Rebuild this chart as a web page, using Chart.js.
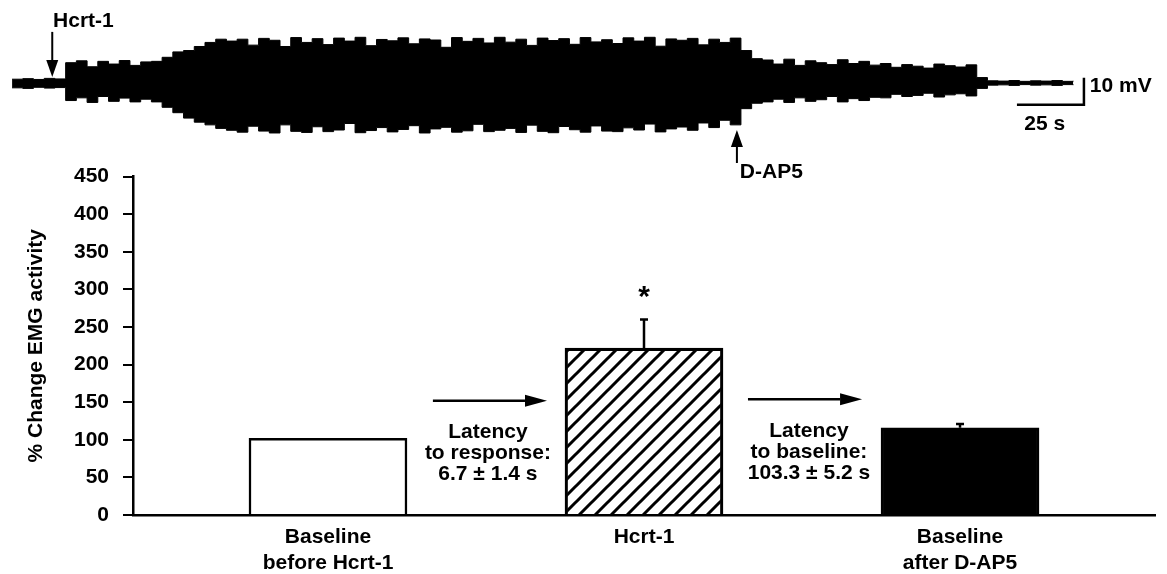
<!DOCTYPE html>
<html>
<head>
<meta charset="utf-8">
<script src="https://cdn.jsdelivr.net/npm/chart.js@4.4.0/dist/chart.umd.min.js"></script>
<style>
    body {
        margin: 0;
        background: #fff;
        width: 1167px;
        height: 574px;
        position: relative;
        overflow: hidden;
    }

    #barras {
        position: absolute;
        left: 0;
        top: 150px;
    }

    #traco {
        position: absolute;
        left: 0;
        top: 0;
    }
</style>
</head>
<body>
<canvas id="barras" width="1167" height="424"></canvas>
<canvas id="traco" width="1167" height="190"></canvas>

<script>
// registro de EMG (tempo em s, envelope em mV)
const traceTime = [
    0, 4, 8, 12, 16, 20, 24, 28, 32, 36,
    40, 44, 48, 52, 56, 60, 64, 68, 72, 76,
    80, 84, 88, 92, 96, 100, 104, 108, 112, 116,
    120, 124, 128, 132, 136, 140, 144, 148, 152, 156,
    160, 164, 168, 172, 176, 180, 184, 188, 192, 196,
    200, 204, 208, 212, 216, 220, 224, 228, 232, 236,
    240, 244, 248, 252, 256, 260, 264, 268, 272, 276,
    280, 284, 288, 292, 296, 300, 304, 308, 312, 316,
    320, 324, 328, 332, 336, 340, 344, 348, 352, 356,
    360, 364, 368, 372, 376, 380, 384, 388, 392, 396
];

const traceUpper = [
    1.4, 1.6, 1.3, 1.7, 1.5, 7.5, 8.2, 6.0, 8.0, 7.0,
    8.3, 6.5, 7.8, 8.0, 9.5, 11.5, 12.0, 13.5, 15.0, 16.2,
    15.5, 16.2, 14.0, 16.5, 15.8, 13.5, 16.8, 15.0, 16.4, 14.2,
    16.6, 15.5, 16.9, 13.8, 16.1, 15.6, 16.7, 14.5, 16.3, 15.9,
    13.2, 16.8, 15.4, 16.5, 14.8, 16.9, 15.1, 16.2, 13.9, 16.6,
    15.7, 16.4, 14.3, 16.8, 15.2, 16.0, 14.6, 16.7, 15.5, 16.9,
    13.6, 16.3, 15.8, 16.5, 14.1, 16.2, 15.0, 16.6, 12.0, 9.0,
    8.5, 7.0, 8.8, 6.5, 8.2, 7.5, 6.8, 8.6, 7.2, 8.0,
    6.6, 7.2, 5.8, 6.8, 6.2, 5.5, 7.0, 6.4, 5.9, 6.7,
    2.0, 0.8, 0.7, 0.9, 0.6, 0.8, 0.7, 0.9, 0.6, 0.8
];

const traceLower = [
    -1.8, -2.0, -1.6, -1.9, -1.7, -6.5, -5.5, -7.2, -5.0, -6.8,
    -5.6, -7.0, -6.0, -7.0, -9.0, -11.0, -13.0, -14.5, -15.5, -16.8,
    -17.5, -18.2, -16.0, -17.8, -18.5, -15.5, -17.9, -18.3, -16.2, -18.0,
    -17.4, -15.0, -18.4, -17.6, -16.5, -18.1, -17.2, -15.8, -18.5, -17.0,
    -16.4, -18.2, -17.7, -15.3, -18.0, -17.5, -16.8, -18.3, -15.6, -17.9,
    -18.4, -16.1, -17.3, -18.2, -15.9, -17.8, -18.0, -16.6, -17.4, -15.2,
    -18.1, -17.0, -16.3, -17.5, -14.8, -16.5, -13.8, -15.5, -9.5, -7.5,
    -7.0, -6.0, -7.2, -5.5, -6.8, -6.2, -5.0, -7.0, -5.8, -6.5,
    -5.3, -5.5, -4.2, -5.0, -4.6, -3.8, -5.2, -4.4, -4.0, -4.8,
    -2.0, -0.8, -0.7, -0.9, -0.6, -0.8, -0.7, -0.9, -0.6, -0.8
];

// grafico de barras
const barCategories = [
    ["Baseline", "before Hcrt-1"],
    ["Hcrt-1"],
    ["Baseline", "after D-AP5"]
];
const barValues = [102, 222, 116];
const barErrors = [0, 38, 5];

const latenciaResposta = ["Latency", "to response:", "6.7 ± 1.4 s"];
const latenciaBaseline = ["Latency", "to baseline:", "103.3 ± 5.2 s"];

const familia = '"Liberation Sans", Arial, Helvetica, sans-serif';

function fonte(tamanho) {
    return `bold ${tamanho}px ${familia}`;
}

function seta(ctx, x1, y1, x2, y2, largura, cabeca, meia) {
    const ang = Math.atan2(y2 - y1, x2 - x1);
    const bx = x2 - cabeca * Math.cos(ang);
    const by = y2 - cabeca * Math.sin(ang);

    ctx.lineWidth = largura;
    ctx.beginPath();
    ctx.moveTo(x1, y1);
    ctx.lineTo(bx, by);
    ctx.stroke();

    ctx.beginPath();
    ctx.moveTo(x2, y2);
    ctx.lineTo(bx + meia * Math.sin(ang), by - meia * Math.cos(ang));
    ctx.lineTo(bx - meia * Math.sin(ang), by + meia * Math.cos(ang));
    ctx.closePath();
    ctx.fill();
}

function criarHachura() {
    const p = document.createElement("canvas");
    p.width = 16;
    p.height = 16;
    const c = p.getContext("2d");
    c.strokeStyle = "#000";
    c.lineWidth = 3;
    c.beginPath();
    c.moveTo(-4, 20); c.lineTo(20, -4);
    c.moveTo(-4, 4); c.lineTo(4, -4);
    c.moveTo(12, 20); c.lineTo(20, 12);
    c.stroke();
    return c.createPattern(p, "repeat");
}

const anotacoesTraco = {
    id: "anotacoesTraco",
    afterDatasetsDraw(chart) {
        const { ctx, scales: { x, y } } = chart;
        ctx.save();
        ctx.fillStyle = "#000";
        ctx.strokeStyle = "#000";

        // Hcrt-1
        seta(ctx, x.getPixelForValue(15), y.getPixelForValue(18.9), x.getPixelForValue(15), y.getPixelForValue(2.2), 2, 17, 6);
        ctx.font = fonte(21);
        ctx.textAlign = "left";
        ctx.textBaseline = "middle";
        ctx.fillText("Hcrt-1", x.getPixelForValue(15.3), y.getPixelForValue(23));

        // D-AP5
        seta(ctx, x.getPixelForValue(270.5), y.getPixelForValue(-29.6), x.getPixelForValue(270.5), y.getPixelForValue(-17.4), 2, 17, 6);
        ctx.fillText("D-AP5", x.getPixelForValue(271.6), y.getPixelForValue(-32.9));

        // barra de escala: 25 s x 10 mV
        ctx.lineWidth = 2.5;
        ctx.beginPath();
        ctx.moveTo(x.getPixelForValue(375), y.getPixelForValue(-8.1));
        ctx.lineTo(x.getPixelForValue(400), y.getPixelForValue(-8.1));
        ctx.lineTo(x.getPixelForValue(400), y.getPixelForValue(1.9));
        ctx.stroke();

        ctx.fillText("10 mV", x.getPixelForValue(402.2), y.getPixelForValue(-1.1));
        ctx.textAlign = "center";
        ctx.fillText("25 s", x.getPixelForValue(385.4), y.getPixelForValue(-15.2));
        ctx.restore();
    }
};

const anotacoesBarras = {
    id: "anotacoesBarras",
    afterDatasetsDraw(chart) {
        const { ctx, scales: { x, y } } = chart;
        ctx.save();
        ctx.strokeStyle = "#000";
        ctx.fillStyle = "#000";
        ctx.lineWidth = 2.5;

        for (let i = 0; i < barValues.length; i++) {
            if (!barErrors[i]) continue;
            const cx = x.getPixelForValue(i + 1);
            const yTopo = y.getPixelForValue(barValues[i] + barErrors[i]);
            ctx.beginPath();
            ctx.moveTo(cx, y.getPixelForValue(barValues[i]));
            ctx.lineTo(cx, yTopo);
            ctx.moveTo(cx - 4, yTopo);
            ctx.lineTo(cx + 4, yTopo);
            ctx.stroke();
        }

        // asterisco de significancia
        ctx.font = fonte(30);
        ctx.textAlign = "center";
        ctx.textBaseline = "middle";
        ctx.fillText("*", x.getPixelForValue(2), y.getPixelForValue(289));

        seta(ctx, x.getPixelForValue(1.332), y.getPixelForValue(152), x.getPixelForValue(1.693), y.getPixelForValue(152), 2.5, 22, 6);
        seta(ctx, x.getPixelForValue(2.329), y.getPixelForValue(154), x.getPixelForValue(2.69), y.getPixelForValue(154), 2.5, 22, 6);

        ctx.font = fonte(21);
        const linhas = [110, 82, 54];
        for (let i = 0; i < linhas.length; i++) {
            ctx.fillText(latenciaResposta[i], x.getPixelForValue(1.506), y.getPixelForValue(linhas[i]));
            ctx.fillText(latenciaBaseline[i], x.getPixelForValue(2.522), y.getPixelForValue(linhas[i] + 2));
        }
        ctx.restore();
    }
};

new Chart(document.getElementById("barras"), {
    type: "bar",
    data: {
        datasets: [{
            data: barValues.map((v, i) => ({ x: i + 1, y: v })),
            backgroundColor: ["#fff", criarHachura(), "#000"],
            borderColor: "#000",
            borderWidth: 2.5,
            borderSkipped: "start",
            barThickness: 158
        }]
    },
    options: {
        responsive: false,
        animation: false,
        layout: { padding: { left: 0, right: 12, top: 15, bottom: 0 } },
        plugins: {
            legend: { display: false },
            tooltip: { enabled: false }
        },
        scales: {
            x: {
                type: "linear",
                min: 0.383,
                max: 3.617,
                offset: false,
                grid: { display: false, drawTicks: false, offset: false },
                border: { display: true, color: "#000", width: 2.5 },
                afterBuildTicks: (s) => {
                    s.ticks = barCategories.map((c, i) => ({ value: i + 1 }));
                },
                afterFit: (s) => { s.height = 59; },
                ticks: {
                    color: "#000",
                    padding: 10,
                    autoSkip: false,
                    maxRotation: 0,
                    font: { family: familia, size: 21, weight: "bold", lineHeight: 1.2 },
                    callback: (v) => barCategories[v - 1]
                }
            },
            y: {
                min: 0,
                max: 450,
                afterFit: (s) => { s.width = 133; },
                ticks: {
                    stepSize: 50,
                    color: "#000",
                    padding: 14,
                    font: { family: familia, size: 21, weight: "bold" }
                },
                grid: {
                    drawOnChartArea: false,
                    drawTicks: true,
                    tickLength: 10,
                    color: "#000",
                    lineWidth: 2
                },
                border: { color: "#000", width: 2.5 },
                title: {
                    display: true,
                    text: "% Change EMG activity",
                    color: "#000",
                    padding: { top: 24, bottom: 0 },
                    font: { family: familia, size: 21, weight: "bold" }
                }
            }
        }
    },
    plugins: [anotacoesBarras]
});

new Chart(document.getElementById("traco"), {
    type: "line",
    data: {
        datasets: [
            {
                data: traceTime.map((t, i) => ({ x: t, y: traceUpper[i] })),
                borderColor: "#000",
                backgroundColor: "#000",
                borderWidth: 1,
                pointRadius: 0,
                stepped: true,
                fill: "+1"
            },
            {
                data: traceTime.map((t, i) => ({ x: t, y: traceLower[i] })),
                borderColor: "#000",
                borderWidth: 1,
                pointRadius: 0,
                stepped: true,
                fill: false
            }
        ]
    },
    options: {
        responsive: false,
        animation: false,
        layout: { padding: 0 },
        plugins: {
            legend: { display: false },
            tooltip: { enabled: false }
        },
        scales: {
            x: { type: "linear", display: false, min: -4.5, max: 431 },
            y: { display: false, min: -39.6, max: 30.7 }
        }
    },
    plugins: [anotacoesTraco]
});
</script>
</body>
</html>
